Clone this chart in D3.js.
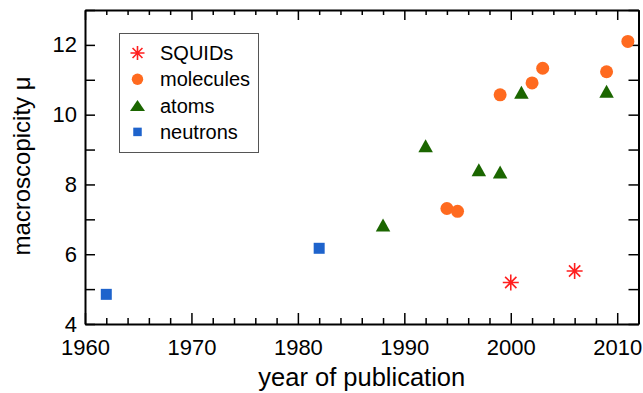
<!DOCTYPE html>
<html>
<head>
<meta charset="utf-8">
<script src="https://cdn.jsdelivr.net/npm/d3@7"></script>
<style>
  body { margin: 0; background: #fff; }
  figure { margin: 0; }
  text { font-family: "Liberation Sans", Arial, Helvetica, sans-serif; fill: #000; }
</style>
</head>
<body>
<figure id="macro"></figure>
<script>
// data
const squidYears = [2000, 2006];
const squidMu = [5.19, 5.52];
const moleculeYears = [1994, 1995, 1999, 2002, 2003, 2009, 2011];
const moleculeMu = [7.31, 7.23, 10.57, 10.91, 11.33, 11.23, 12.1];
const atomYears = [1988, 1992, 1997, 1999, 2001, 2009];
const atomMu = [6.84, 9.11, 8.42, 8.36, 10.64, 10.67];
const neutronYears = [1962, 1982];
const neutronMu = [4.85, 6.17];

const seriesNames = ["SQUIDs", "molecules", "atoms", "neutrons"];
const xTicks = [1960, 1970, 1980, 1990, 2000, 2010];
const yTicks = [4, 6, 8, 10, 12];

// set the dimensions and margins of the graph
const margin = {top: 10, right: 4, bottom: 69, left: 85},
  width = 643 - margin.left - margin.right,
  height = 393 - margin.top - margin.bottom;

const svg = d3.select("figure#macro")
  .append("svg")
  .attr("width", 643)
  .attr("height", 393)
  .append("g")
  .attr("transform", "translate(" + margin.left + "," + margin.top + ")");

const x = d3.scaleLinear().domain([1960, 2012]).range([0, 553.5]);
const y = d3.scaleLinear().domain([4, 13]).range([height, 0]);

const minorX = d3.range(1960, 2013, 2).filter(d => d % 10 !== 0);
const allY = d3.range(4, 14, 1);

function styleAxis(g, fontSize) {
  g.select(".domain").attr("stroke", "#000").attr("stroke-width", 2);
  g.selectAll(".tick line").attr("stroke", "#000").attr("stroke-width", 1.5);
  g.selectAll(".tick text").style("font-size", fontSize + "px").attr("fill", "#000");
  g.attr("font-family", null);
}

// bottom axis: major with labels, minor without
svg.append("g")
  .attr("transform", `translate(0, ${height})`)
  .call(d3.axisBottom(x).tickValues(xTicks).tickSize(-11).tickSizeOuter(0)
    .tickPadding(15).tickFormat(d3.format("d")))
  .call(g => styleAxis(g, 22));
svg.append("g")
  .attr("transform", `translate(0, ${height})`)
  .call(d3.axisBottom(x).tickValues(minorX).tickSize(-6).tickFormat(""))
  .call(g => { styleAxis(g, 22); g.select(".domain").remove(); });

// top axis, ticks only
svg.append("g")
  .call(d3.axisTop(x).tickValues(xTicks).tickSize(-10).tickSizeOuter(0).tickFormat(""))
  .call(g => styleAxis(g, 22));
svg.append("g")
  .call(d3.axisTop(x).tickValues(minorX).tickSize(-5).tickFormat(""))
  .call(g => { styleAxis(g, 22); g.select(".domain").remove(); });

// left axis
svg.append("g")
  .call(d3.axisLeft(y).tickValues(allY).tickSize(-10).tickSizeOuter(0).tickPadding(8)
    .tickFormat(d => yTicks.includes(d) ? d : ""))
  .call(g => styleAxis(g, 22));

// right axis
svg.append("g")
  .attr("transform", `translate(${x(2012)}, 0)`)
  .call(d3.axisRight(y).tickValues(allY).tickSize(-10).tickSizeOuter(0).tickFormat(""))
  .call(g => styleAxis(g, 22));

// axis titles
svg.append("text")
  .attr("x", (x(1960) + x(2012)) / 2)
  .attr("y", 386 - margin.top)
  .attr("text-anchor", "middle")
  .style("font-size", "25.5px")
  .text("year of publication");

svg.append("text")
  .attr("transform", `translate(${30 - margin.left}, ${166 - margin.top}) rotate(-90)`)
  .attr("text-anchor", "middle")
  .style("font-size", "24px")
  .text("macroscopicity \u03bc");

// marker shapes
const colors = {SQUIDs: "#ff1f1f", molecules: "#ff6a1f", atoms: "#1b6600", neutrons: "#1e63cc"};

function asterisk(r) {
  const d = r * Math.SQRT1_2;
  return `M0,${-r}L0,${r}M${-r},0L${r},0M${-d},${-d}L${d},${d}M${-d},${d}L${d},${-d}`;
}
function triangle(w, h) {
  return `M0,${-h / 2}L${w / 2},${h / 2}L${-w / 2},${h / 2}Z`;
}
function square(s) {
  return `M${-s / 2},${-s / 2}h${s}v${s}h${-s}Z`;
}

function drawMarker(g, name, big) {
  if (name === "SQUIDs") {
    g.append("path").attr("d", asterisk(big ? 8 : 7))
      .attr("stroke", colors[name]).attr("stroke-width", 1.6).attr("fill", "none");
  } else if (name === "molecules") {
    g.append("circle").attr("r", big ? 6.5 : 5.7).attr("fill", colors[name]);
  } else if (name === "atoms") {
    g.append("path").attr("d", big ? triangle(14.5, 13) : triangle(15, 11)).attr("fill", colors[name]);
  } else {
    g.append("path").attr("d", square(big ? 11 : 8.5)).attr("fill", colors[name]);
  }
}

const series = [
  {name: "neutrons", years: neutronYears, mu: neutronMu},
  {name: "atoms", years: atomYears, mu: atomMu},
  {name: "molecules", years: moleculeYears, mu: moleculeMu},
  {name: "SQUIDs", years: squidYears, mu: squidMu}
];

series.forEach(s => {
  const pts = s.years.map((yr, i) => ({year: yr, mu: s.mu[i]}));
  svg.append("g").selectAll("g")
    .data(pts)
    .enter()
    .append("g")
    .attr("transform", d => `translate(${x(d.year)}, ${y(d.mu)})`)
    .each(function() { drawMarker(d3.select(this), s.name, true); });
});

// legend
const legend = svg.append("g").attr("transform", `translate(${119.5 - margin.left}, ${33.5 - margin.top})`);
legend.append("rect")
  .attr("width", 139).attr("height", 119)
  .attr("fill", "#fff").attr("stroke", "#555").attr("stroke-width", 1);

seriesNames.forEach((name, i) => {
  const row = legend.append("g").attr("transform", `translate(18, ${19.5 + i * 26.3})`);
  drawMarker(row.append("g"), name, false);
  row.append("text")
    .attr("x", 22.5)
    .attr("y", 7)
    .style("font-size", "20px")
    .text(name);
});
</script>
</body>
</html>
